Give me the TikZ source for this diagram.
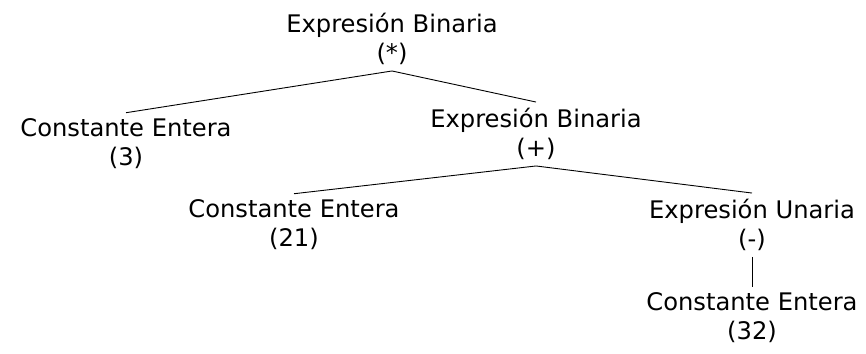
\documentclass[tikz,border=0pt]{standalone}
\usepackage{fontspec}
\setmainfont{DejaVu Sans}
\begin{document}
\begin{tikzpicture}[x=1pt,y=1pt,every node/.style={align=center,inner xsep=0pt,inner ysep=6pt,font=\fontsize{24.2}{29}\selectfont}]
    \useasboundingbox (0,0) rectangle (866,-353);
    \node (root) at (392,-39) {Expresión Binaria\\(*)};
    \node (c3) at (126,-144) {Constante Entera\\(3)};
    \node (bin) at (536,-134) {Expresión Binaria\\(+)};
    \node (c21) at (294,-225) {Constante Entera\\(21)};
    \node (un) at (752,-225) {Expresión Unaria\\(-)};
    \node (c32) at (752,-318) {Constante Entera\\(32)};
    \draw[line width=0.9pt] (root.south) -- (c3.north);
    \draw[line width=0.9pt] (root.south) -- (bin.north);
    \draw[line width=0.9pt] (bin.south) -- (c21.north);
    \draw[line width=0.9pt] (bin.south) -- (un.north);
    \draw[line width=0.9pt] (un.south) -- (c32.north);
  \end{tikzpicture}
\end{document}
